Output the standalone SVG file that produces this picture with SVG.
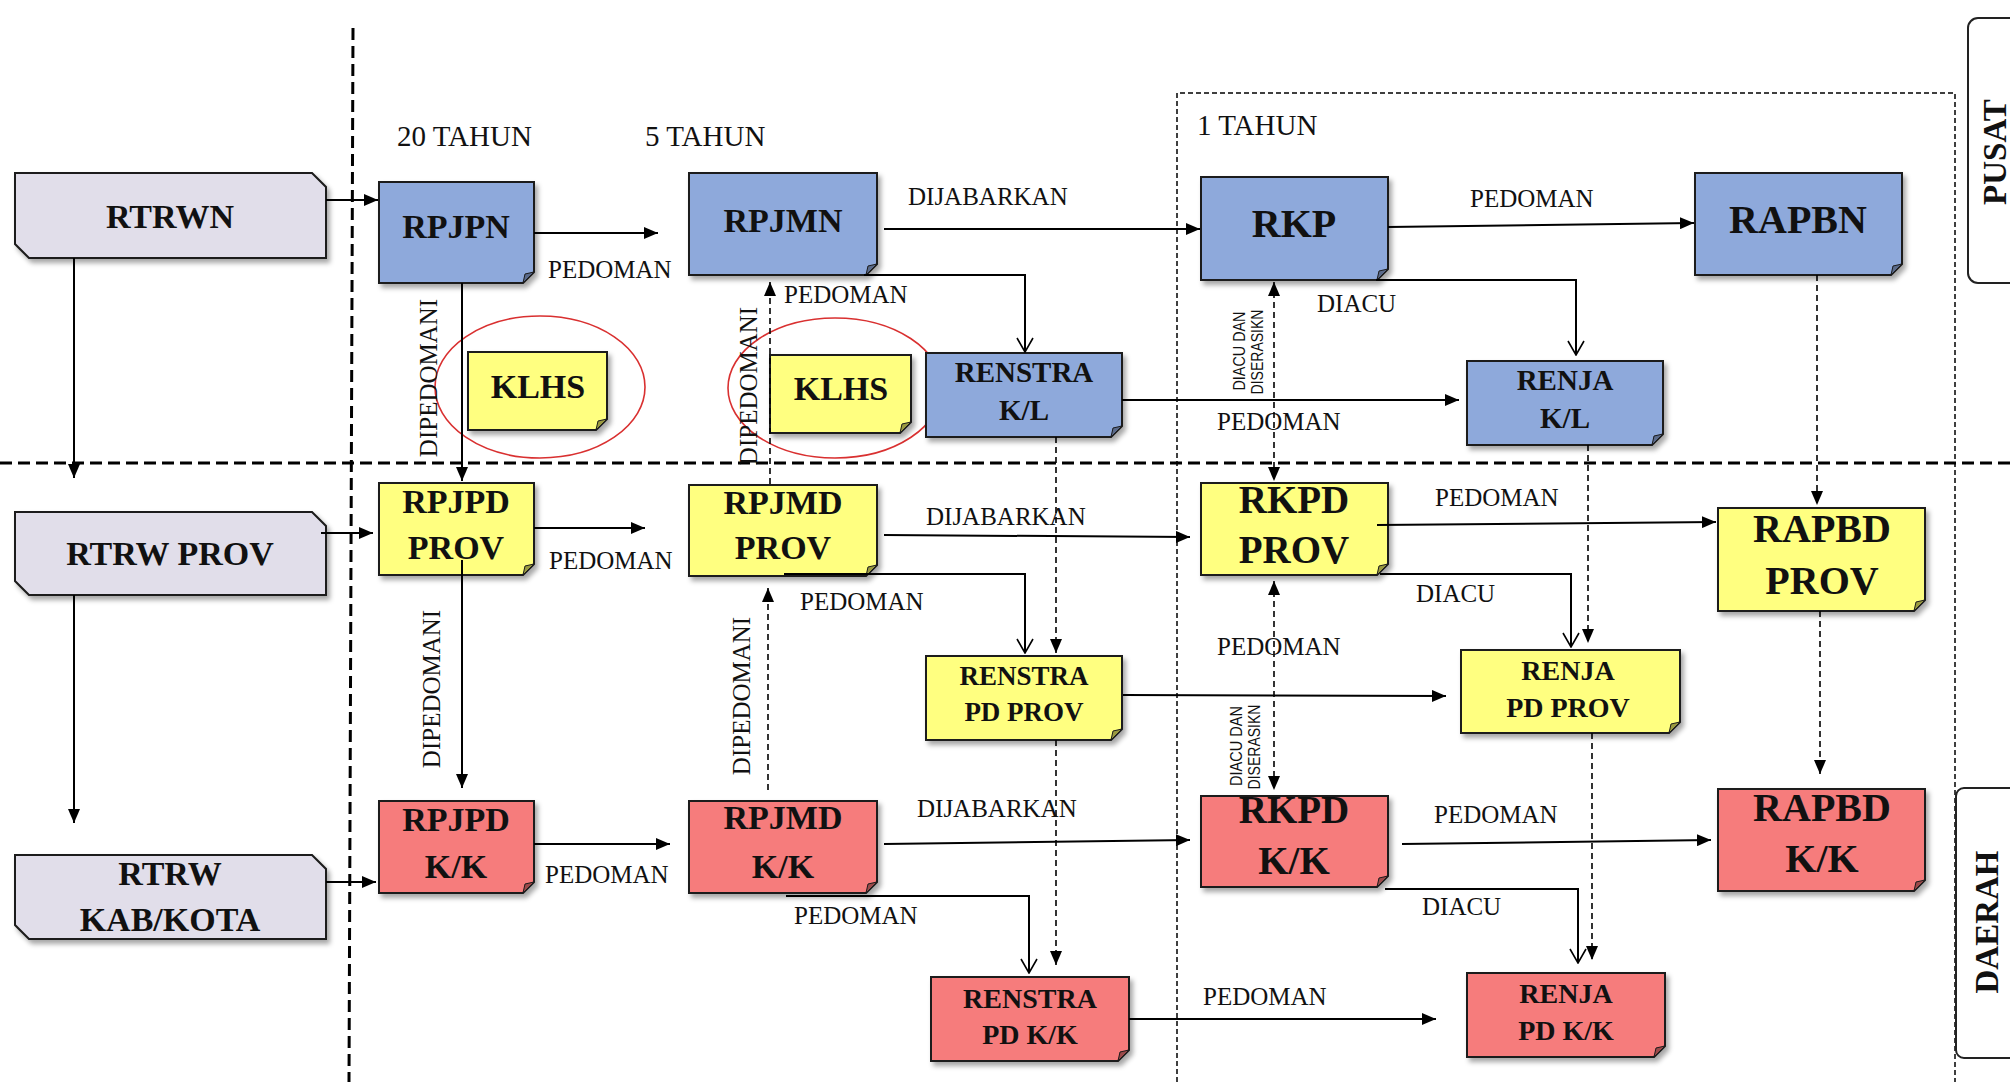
<svg xmlns="http://www.w3.org/2000/svg" width="2010" height="1082" viewBox="0 0 2010 1082">
<defs>
<style>
.b{stroke:#1a1a1a;stroke-width:2;filter:url(#sh)}
.blue{fill:#8EA9DB}.yel{fill:#FFFF80}.red{fill:#F67C7C}.lav{fill:#E1DEEA}
.fold{fill:#5a6a8a;stroke:#1a1a1a;stroke-width:1}
.foldy{fill:#9a9a40;stroke:#1a1a1a;stroke-width:1}
.foldr{fill:#9a4a4a;stroke:#1a1a1a;stroke-width:1}
.t{font-family:"Liberation Serif",serif;font-weight:bold;fill:#111;text-anchor:middle}
.lb{font-family:"Liberation Serif",serif;fill:#111;font-size:25px}
.yr{font-family:"Liberation Serif",serif;fill:#111;font-size:29px}
.sm{font-family:"Liberation Sans",sans-serif;fill:#111;font-size:16px;text-anchor:middle}
.c{fill:none;stroke:#000;stroke-width:2}
.d{fill:none;stroke:#000;stroke-width:1.6;stroke-dasharray:6 4}
.ah{marker-end:url(#ah)}
.oa{marker-end:url(#oa)}
.sep{fill:none;stroke:#000;stroke-width:3;stroke-dasharray:12 6}
.frame{fill:none;stroke:#000;stroke-width:1.5;stroke-dasharray:5 3}
.ell{fill:none;stroke:#D93030;stroke-width:1.6}
</style>
<filter id="sh" x="-10%" y="-10%" width="130%" height="130%">
<feDropShadow dx="3" dy="4" stdDeviation="2.5" flood-color="#000" flood-opacity="0.35"/>
</filter>
<marker id="ah" viewBox="0 0 14 12" refX="14" refY="6" markerWidth="14" markerHeight="12" orient="auto-start-reverse" markerUnits="userSpaceOnUse"><path d="M0,0 L14,6 L0,12 Z" fill="#000"/></marker>
<marker id="oa" viewBox="0 0 16 18" refX="15" refY="9" markerWidth="16" markerHeight="18" orient="auto" markerUnits="userSpaceOnUse"><path d="M1,1 L15,9 L1,17" fill="none" stroke="#000" stroke-width="1.6"/></marker>
</defs>
<rect width="2010" height="1082" fill="#fff"/>

<g id="layout">
<line class="sep" x1="353" y1="28" x2="349" y2="1082"/>
<line class="sep" x1="0" y1="463" x2="2010" y2="463"/>
<path class="frame" d="M1177,1082 V93 H1955 V1082"/>
<rect x="1968" y="18" width="80" height="265" rx="10" fill="#fff" stroke="#222" stroke-width="2"/>
<rect x="1956" y="788" width="80" height="270" rx="8" fill="#fff" stroke="#222" stroke-width="2"/>
<text class="t" font-size="33" transform="translate(2006,152) rotate(-90)">PUSAT</text>
<text class="t" font-size="33" transform="translate(1998,922) rotate(-90)">DAERAH</text>
<text class="yr" x="397" y="146" font-size="30">20 TAHUN</text>
<text class="yr" x="645" y="146">5 TAHUN</text>
<text class="yr" x="1197" y="135">1 TAHUN</text>
<ellipse class="ell" cx="540" cy="387" rx="105" ry="71"/>
<ellipse class="ell" cx="835" cy="388" rx="107" ry="70"/>
</g>

<g id="rtrwn"><path class="b lav" d="M15,173 H312 L326,187 V258 H29 L15,244 Z"/><text class="t" font-size="34" x="170" y="228">RTRWN</text></g>
<g id="rtrw-prov"><path class="b lav" d="M15,512 H312 L326,526 V595 H29 L15,581 Z"/><text class="t" font-size="34" x="170" y="565">RTRW PROV</text></g>
<g id="rtrw-kk"><path class="b lav" d="M15,855 H312 L326,869 V939 H29 L15,925 Z"/><text class="t" font-size="34" x="170" y="885">RTRW</text><text class="t" font-size="34" x="170" y="931">KAB/KOTA</text></g>

<g id="rpjpn"><path class="b blue" d="M379,182 H534 V272 L523,283 H379 Z"/><path class="fold" d="M534,272 L523,283 L525,274 Z"/><text class="t" font-size="34" x="456" y="238">RPJPN</text></g>
<g id="rpjmn"><path class="b blue" d="M689,173 H877 V264 L866,275 H689 Z"/><path class="fold" d="M877,264 L866,275 L868,266 Z"/><text class="t" font-size="34" x="783" y="232">RPJMN</text></g>
<g id="renstra-kl"><path class="b blue" d="M926,353 H1122 V426 L1111,437 H926 Z"/><path class="fold" d="M1122,426 L1111,437 L1113,428 Z"/><text class="t" font-size="29" x="1024" y="382">RENSTRA</text><text class="t" font-size="29" x="1024" y="420">K/L</text></g>
<g id="rkp"><path class="b blue" d="M1201,177 H1388 V269 L1377,280 H1201 Z"/><path class="fold" d="M1388,269 L1377,280 L1379,271 Z"/><text class="t" font-size="40" x="1294" y="237">RKP</text></g>
<g id="renja-kl"><path class="b blue" d="M1467,361 H1663 V434 L1652,445 H1467 Z"/><path class="fold" d="M1663,434 L1652,445 L1654,436 Z"/><text class="t" font-size="29" x="1565" y="390">RENJA</text><text class="t" font-size="29" x="1565" y="428">K/L</text></g>
<g id="rapbn"><path class="b blue" d="M1695,173 H1902 V264 L1891,275 H1695 Z"/><path class="fold" d="M1902,264 L1891,275 L1893,266 Z"/><text class="t" font-size="40" x="1798" y="233">RAPBN</text></g>

<g id="klhs-1"><path class="b yel" d="M468,352 H607 V419 L596,430 H468 Z"/><path class="foldy" d="M607,419 L596,430 L598,421 Z"/><text class="t" font-size="34" x="538" y="398">KLHS</text></g>
<g id="klhs-2"><path class="b yel" d="M770,355 H911 V422 L900,433 H770 Z"/><path class="foldy" d="M911,422 L900,433 L902,424 Z"/><text class="t" font-size="34" x="841" y="400">KLHS</text></g>

<g id="rpjpd-prov"><path class="b yel" d="M379,483 H534 V564 L523,575 H379 Z"/><path class="foldy" d="M534,564 L523,575 L525,566 Z"/><text class="t" font-size="34" x="456" y="513">RPJPD</text><text class="t" font-size="34" x="456" y="559">PROV</text></g>
<g id="rpjmd-prov"><path class="b yel" d="M689,485 H877 V565 L866,576 H689 Z"/><path class="foldy" d="M877,565 L866,576 L868,567 Z"/><text class="t" font-size="34" x="783" y="514">RPJMD</text><text class="t" font-size="34" x="783" y="559">PROV</text></g>
<g id="renstra-pd-prov"><path class="b yel" d="M926,656 H1122 V729 L1111,740 H926 Z"/><path class="foldy" d="M1122,729 L1111,740 L1113,731 Z"/><text class="t" font-size="27" x="1024" y="685">RENSTRA</text><text class="t" font-size="27" x="1024" y="721">PD PROV</text></g>
<g id="rkpd-prov"><path class="b yel" d="M1201,483 H1388 V564 L1377,575 H1201 Z"/><path class="foldy" d="M1388,564 L1377,575 L1379,566 Z"/><text class="t" font-size="39" x="1294" y="513">RKPD</text><text class="t" font-size="39" x="1294" y="563">PROV</text></g>
<g id="renja-pd-prov"><path class="b yel" d="M1461,650 H1680 V722 L1669,733 H1461 Z"/><path class="foldy" d="M1680,722 L1669,733 L1671,724 Z"/><text class="t" font-size="28" x="1568" y="680">RENJA</text><text class="t" font-size="28" x="1568" y="717">PD PROV</text></g>
<g id="rapbd-prov"><path class="b yel" d="M1718,508 H1925 V600 L1914,611 H1718 Z"/><path class="foldy" d="M1925,600 L1914,611 L1916,602 Z"/><text class="t" font-size="40" x="1822" y="542">RAPBD</text><text class="t" font-size="40" x="1822" y="594">PROV</text></g>

<g id="rpjpd-kk"><path class="b red" d="M379,801 H534 V882 L523,893 H379 Z"/><path class="foldr" d="M534,882 L523,893 L525,884 Z"/><text class="t" font-size="34" x="456" y="831">RPJPD</text><text class="t" font-size="34" x="456" y="878">K/K</text></g>
<g id="rpjmd-kk"><path class="b red" d="M689,801 H877 V882 L866,893 H689 Z"/><path class="foldr" d="M877,882 L866,893 L868,884 Z"/><text class="t" font-size="34" x="783" y="829">RPJMD</text><text class="t" font-size="34" x="783" y="878">K/K</text></g>
<g id="renstra-pd-kk"><path class="b red" d="M931,977 H1129 V1050 L1118,1061 H931 Z"/><path class="foldr" d="M1129,1050 L1118,1061 L1120,1052 Z"/><text class="t" font-size="28" x="1030" y="1008">RENSTRA</text><text class="t" font-size="28" x="1030" y="1044">PD K/K</text></g>
<g id="rkpd-kk"><path class="b red" d="M1201,796 H1388 V876 L1377,887 H1201 Z"/><path class="foldr" d="M1388,876 L1377,887 L1379,878 Z"/><text class="t" font-size="39" x="1294" y="823">RKPD</text><text class="t" font-size="39" x="1294" y="874">K/K</text></g>
<g id="renja-pd-kk"><path class="b red" d="M1467,973 H1665 V1046 L1654,1057 H1467 Z"/><path class="foldr" d="M1665,1046 L1654,1057 L1656,1048 Z"/><text class="t" font-size="28" x="1566" y="1003">RENJA</text><text class="t" font-size="28" x="1566" y="1040">PD K/K</text></g>
<g id="rapbd-kk"><path class="b red" d="M1718,789 H1925 V880 L1914,891 H1718 Z"/><path class="foldr" d="M1925,880 L1914,891 L1916,882 Z"/><text class="t" font-size="40" x="1822" y="821">RAPBD</text><text class="t" font-size="40" x="1822" y="872">K/K</text></g>

<g id="connectors">
<line class="c ah" x1="326" y1="200" x2="378" y2="200"/>
<line class="c ah" x1="74" y1="258" x2="74" y2="478"/>
<line class="c ah" x1="534" y1="233" x2="658" y2="233"/>
<text class="lb" x="548" y="278">PEDOMAN</text>
<line class="c ah" x1="462" y1="283" x2="462" y2="481"/>
<text class="lb" text-anchor="middle" transform="translate(437,378) rotate(-90)">DIPEDOMANI</text>
<line class="c ah" x1="884" y1="229" x2="1200" y2="229"/>
<text class="lb" x="908" y="205">DIJABARKAN</text>
<polyline class="c oa" stroke-width="1.6" points="864,275 1025,275 1025,352"/>
<line class="d ah" x1="770" y1="484" x2="770" y2="282"/>
<text class="lb" x="784" y="303">PEDOMAN</text>
<text class="lb" text-anchor="middle" transform="translate(757,386) rotate(-90)">DIPEDOMANI</text>
<line class="c ah" x1="1122" y1="400" x2="1459" y2="400"/>
<text class="lb" x="1217" y="430">PEDOMAN</text>
<line class="c ah" x1="1388" y1="227" x2="1694" y2="223"/>
<text class="lb" x="1470" y="207">PEDOMAN</text>
<polyline class="c oa" stroke-width="1.6" points="1376,280 1576,280 1576,355"/>
<text class="lb" x="1317" y="312">DIACU</text>
<line class="d ah" style="marker-start:url(#ah)" x1="1274" y1="282" x2="1274" y2="481"/>
<text class="sm" textLength="79" lengthAdjust="spacingAndGlyphs" transform="translate(1245,351) rotate(-90)">DIACU DAN</text>
<text class="sm" textLength="85" lengthAdjust="spacingAndGlyphs" transform="translate(1263,352) rotate(-90)">DISERASIKN</text>
<line class="d ah" x1="1817" y1="275" x2="1817" y2="505"/>
<line class="d ah" x1="1588" y1="445" x2="1588" y2="643"/>
<line class="d ah" x1="1056" y1="437" x2="1056" y2="653"/>

<line class="c ah" x1="321" y1="533" x2="373" y2="533"/>
<line class="c ah" x1="74" y1="595" x2="74" y2="823"/>
<line class="c ah" x1="534" y1="528" x2="645" y2="528"/>
<text class="lb" x="549" y="569">PEDOMAN</text>
<line class="c ah" x1="462" y1="560" x2="462" y2="788"/>
<text class="lb" text-anchor="middle" transform="translate(440,689) rotate(-90)">DIPEDOMANI</text>
<line class="c ah" x1="884" y1="535" x2="1190" y2="537"/>
<text class="lb" x="926" y="525">DIJABARKAN</text>
<polyline class="c oa" stroke-width="1.6" points="784,574 1025,574 1025,653"/>
<text class="lb" x="800" y="610">PEDOMAN</text>
<line class="d ah" style="marker-start:url(#ah)" x1="1274" y1="581" x2="1274" y2="790"/>
<text class="lb" x="1217" y="655">PEDOMAN</text>
<text class="sm" textLength="80" lengthAdjust="spacingAndGlyphs" transform="translate(1242,746) rotate(-90)">DIACU DAN</text>
<text class="sm" textLength="85" lengthAdjust="spacingAndGlyphs" transform="translate(1260,747) rotate(-90)">DISERASIKN</text>
<line class="c ah" x1="1377" y1="525" x2="1716" y2="522"/>
<text class="lb" x="1435" y="506">PEDOMAN</text>
<polyline class="c oa" stroke-width="1.6" points="1380,574 1571,574 1571,647"/>
<text class="lb" x="1416" y="602">DIACU</text>
<line class="c ah" x1="1123" y1="695" x2="1446" y2="696"/>
<line class="d ah" x1="1820" y1="611" x2="1820" y2="774"/>
<line class="d ah" x1="1056" y1="740" x2="1056" y2="965"/>
<line class="d ah" x1="1592" y1="733" x2="1592" y2="960"/>
<line class="d ah" x1="768" y1="790" x2="768" y2="588"/>
<text class="lb" text-anchor="middle" transform="translate(750,696) rotate(-90)">DIPEDOMANI</text>

<line class="c ah" x1="326" y1="882" x2="376" y2="882"/>
<line class="c ah" x1="534" y1="844" x2="670" y2="844"/>
<text class="lb" x="545" y="883">PEDOMAN</text>
<line class="c ah" x1="884" y1="844" x2="1190" y2="840"/>
<text class="lb" x="917" y="817">DIJABARKAN</text>
<polyline class="c oa" stroke-width="1.6" points="786,896 1029,896 1029,973"/>
<text class="lb" x="794" y="924">PEDOMAN</text>
<line class="c ah" x1="1402" y1="844" x2="1711" y2="840"/>
<text class="lb" x="1434" y="823">PEDOMAN</text>
<polyline class="c oa" stroke-width="1.6" points="1385,889 1578,889 1578,963"/>
<text class="lb" x="1422" y="915">DIACU</text>
<line class="c ah" x1="1129" y1="1019" x2="1436" y2="1019"/>
<text class="lb" x="1203" y="1005">PEDOMAN</text>
</g>
</svg>
